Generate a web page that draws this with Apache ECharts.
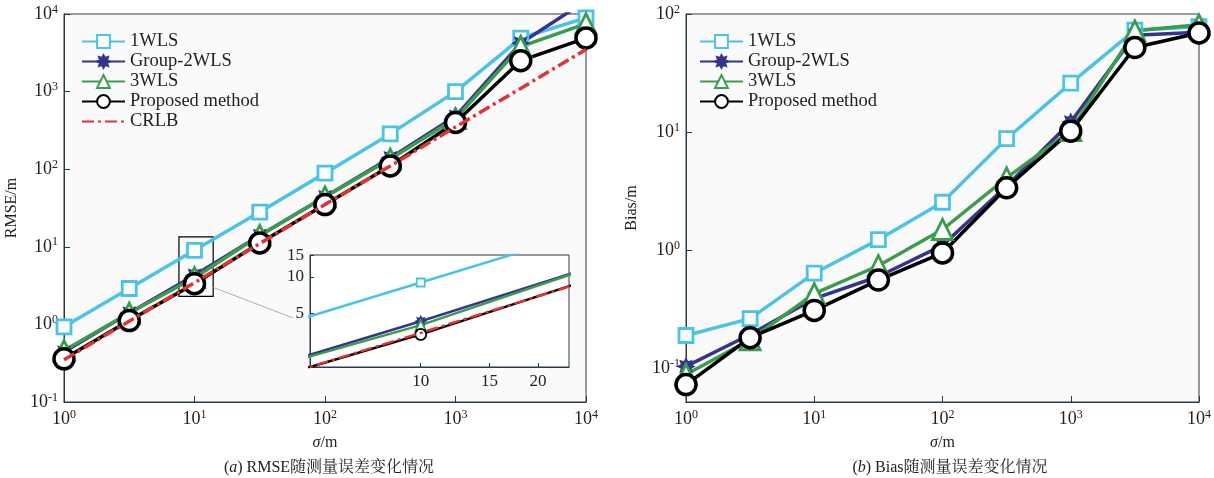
<!DOCTYPE html>
<html>
<head>
<meta charset="utf-8">
<script src="https://cdn.jsdelivr.net/npm/echarts@6/dist/echarts.min.js"></script>
<style>
html,body{margin:0;padding:0;background:#fff;}
#main{width:1214px;height:478px;}
</style>
</head>
<body>
<div id="main"></div>
<script>
// sigma values (half decades)
var sigma = [1, 3.162, 10, 31.62, 100, 316.2, 1000, 3162, 10000];
var names = ['1WLS', 'Group-2WLS', '3WLS', 'Proposed method', 'CRLB'];

// (a) RMSE
var rmse_1wls     = [0.93, 2.9, 9.0, 28, 89, 285, 1000, 4900, 8900];
var rmse_group    = [0.44, 1.4, 4.3, 14, 44, 140, 480, 4200, 14800];
var rmse_3wls     = [0.46, 1.4, 4.0, 14, 44, 135, 450, 3800, 7500];
var rmse_proposed = [0.36, 1.12, 3.35, 11.2, 35, 110, 400, 2500, 4900];
var rmse_crlb     = [0.35, 1.1, 3.45, 11, 35, 110, 350, 1100, 3500];

// (b) Bias
var bias_1wls     = [0.19, 0.264, 0.64, 1.23, 2.55, 8.8, 26, 73, 78];
var bias_group    = [0.104, 0.194, 0.39, 0.6, 1.1, 3.5, 12.2, 66, 70];
var bias_3wls     = [0.089, 0.175, 0.43, 0.74, 1.5, 4.1, 10.3, 72, 81];
var bias_proposed = [0.073, 0.182, 0.31, 0.56, 0.95, 3.38, 10.2, 52, 69];

var colors = ['#4cc2e6', '#35358e', '#3a9c4c', '#000000', '#e23232'];
var serif = 'Liberation Serif, Times New Roman, serif';
var cjk = 'Liberation Serif, Noto Serif CJK SC, Noto Sans CJK SC, serif';
var axis_color = '#263a47';

// asterisk-like marker
function star_path(){
    var p = [];
    for(var i=0;i<16;i++){
        var r = (i%2==0) ? 10 : 6;
        var a = Math.PI*i/8;
        p.push((i==0?'M':'L')+(r*Math.sin(a)).toFixed(2)+','+(-r*Math.cos(a)).toFixed(2));
    }
    return 'path://'+p.join(' ')+'Z';
}
var symbols = ['rect', star_path(), 'triangle', 'circle', 'none'];

function pairs(arr){
    return sigma.map(function(s,i){ return [s, arr[i]]; });
}
function pow_label(v){
    var e = Math.round(Math.log10(v));
    return '10{sup|'+e+'}';
}
var pow_rich = {sup:{fontSize:12, fontFamily:serif, color:'#222', verticalAlign:'top', padding:[0,0,9,0]}};
var tick_font = {fontSize:18, fontFamily:serif, color:'#222'};

function log_axis(grid, opt){
    var a = {
        type:'log', logBase:10, gridIndex:grid,
        axisLine:{lineStyle:{color:axis_color, width:1}},
        axisTick:{inside:true, length:6, lineStyle:{color:axis_color}},
        minorTick:{show:false},
        splitLine:{show:false},
        nameTextStyle:{fontSize:16, fontFamily:serif, color:'#222'}
    };
    return Object.assign(a, opt);
}
function pow_axis_label(margin, custom){
    var l = Object.assign({formatter:pow_label, rich:pow_rich, margin:margin}, tick_font);
    if(custom) l.customValues = custom;
    return l;
}

function make_series(grid, data_list, count, inset){
    var out = [];
    for(let i=0;i<count;i++){
        let is_crlb = (i==4);
        let sz = inset ? [8,9,10,11][i] : [14,13,20,20][i];
        out.push({
            name:names[i], type:'line',
            xAxisIndex:grid, yAxisIndex:grid,
            data:pairs(data_list[i]),
            symbol:symbols[i],
            symbolSize: inset ? function(v){ return v[0]==10 ? sz : 0; } : sz,
            showSymbol:true,
            clip:true,
            z: (inset ? 6 : 3) + (is_crlb ? 1 : 0),
            lineStyle:{color:colors[i], width: inset ? 2.5 : 3.5, type: is_crlb ? [12,4,3,4] : 'solid'},
            itemStyle:{color: i==1 ? colors[i] : '#fff', borderColor:colors[i], borderWidth: inset ? 1.8 : (i==3 ? 3.5 : 2.8)},
            emphasis:{disabled:true}
        });
    }
    return out;
}

var rmse_list = [rmse_1wls, rmse_group, rmse_3wls, rmse_proposed, rmse_crlb];
var bias_list = [bias_1wls, bias_group, bias_3wls, bias_proposed];

var series = [];
series = series.concat(make_series(0, rmse_list, 5, false));
series = series.concat(make_series(1, rmse_list, 5, true));
series = series.concat(make_series(2, bias_list, 4, false));
// zoom box and connector in panel (a)
series.push({
    name:'zoom', type:'line', xAxisIndex:0, yAxisIndex:0, data:[], silent:true,
    markArea:{silent:true, itemStyle:{color:'rgba(0,0,0,0)', borderColor:'#000', borderWidth:1.2},
        data:[[{coord:[7.6, 13.4]}, {coord:[13.9, 2.3]}]]},
    markLine:{silent:true, symbol:'none', label:{show:false}, lineStyle:{color:'#999', width:0.8, type:'solid'},
        data:[[{coord:[13.9, 3.0]}, {coord:[57, 1.21]}]]}
});

var legend_base = {
    orient:'vertical', itemWidth:43, itemHeight:16, itemGap:1,
    textStyle:{fontSize:18.5, fontFamily:serif, color:'#222'},
    backgroundColor:'rgba(0,0,0,0)'
};
var legend_a = names.map(function(n){
    return n=='CRLB' ? {name:n, itemStyle:{opacity:0}} : n;
});

var x_name_style = {fontSize:16, fontFamily:serif, color:'#222', rich:{i:{fontStyle:'italic', fontSize:16, fontFamily:serif}}};
var caption_style = {fontSize:16, fontWeight:'normal', fontFamily:cjk, color:'#222',
    rich:{i:{fontStyle:'italic', fontSize:16, fontFamily:serif, color:'#222'}}};

var chart = echarts.init(document.getElementById('main'));
chart.setOption({
    animation:false,
    backgroundColor:'#fff',
    grid:[
        {left:64, top:14, width:522, height:388, show:true, backgroundColor:'#fafafa', borderColor:axis_color, borderWidth:1},
        {left:310, top:255, width:259, height:112, show:true, backgroundColor:'#fff', borderColor:axis_color, borderWidth:1, z:4},
        {left:686, top:14, width:520, height:388, show:true, backgroundColor:'#fafafa', borderColor:axis_color, borderWidth:1}
    ],
    xAxis:[
        log_axis(0, {min:1, max:10000, name:'{i|σ}/m', nameLocation:'middle', nameGap:33, nameTextStyle:x_name_style,
            axisLabel:pow_axis_label(7)}),
        log_axis(1, {min:5.2, max:24, z:5,
            axisTick:{inside:true, length:4, lineStyle:{color:axis_color}, customValues:[10,15,20]},
            axisLabel:{fontSize:17, fontFamily:serif, color:'#222', customValues:[10,15,20], margin:6}}),
        log_axis(2, {min:1, max:10000, name:'{i|σ}/m', nameLocation:'middle', nameGap:33, nameTextStyle:x_name_style,
            axisLabel:pow_axis_label(7)})
    ],
    yAxis:[
        log_axis(0, {min:0.1, max:10000, name:'RMSE/m', nameLocation:'middle', nameGap:44,
            axisLabel:pow_axis_label(6)}),
        log_axis(1, {min:1.8, max:15.2, z:5,
            axisTick:{inside:true, length:4, lineStyle:{color:axis_color}, customValues:[5,10,15]},
            axisLabel:{fontSize:17, fontFamily:serif, color:'#222', customValues:[5,10,15], margin:6}}),
        log_axis(2, {min:0.052, max:100, name:'Bias/m', nameLocation:'middle', nameGap:46,
            axisTick:{inside:true, length:6, lineStyle:{color:axis_color}, customValues:[0.1,1,10,100]},
            axisLabel:pow_axis_label(6, [0.1,1,10,100])})
    ],
    legend:[
        Object.assign({left:76, top:27, data:legend_a}, legend_base),
        Object.assign({left:694, top:27, data:names.slice(0,4)}, legend_base)
    ],
    title:[
        {text:'({i|a}) RMSE随测量误差变化情况', left:324, top:455, textAlign:'center', textStyle:caption_style},
        {text:'({i|b}) Bias随测量误差变化情况', left:945, top:455, textAlign:'center', textStyle:caption_style}
    ],
    series:series
});
</script>
</body>
</html>
